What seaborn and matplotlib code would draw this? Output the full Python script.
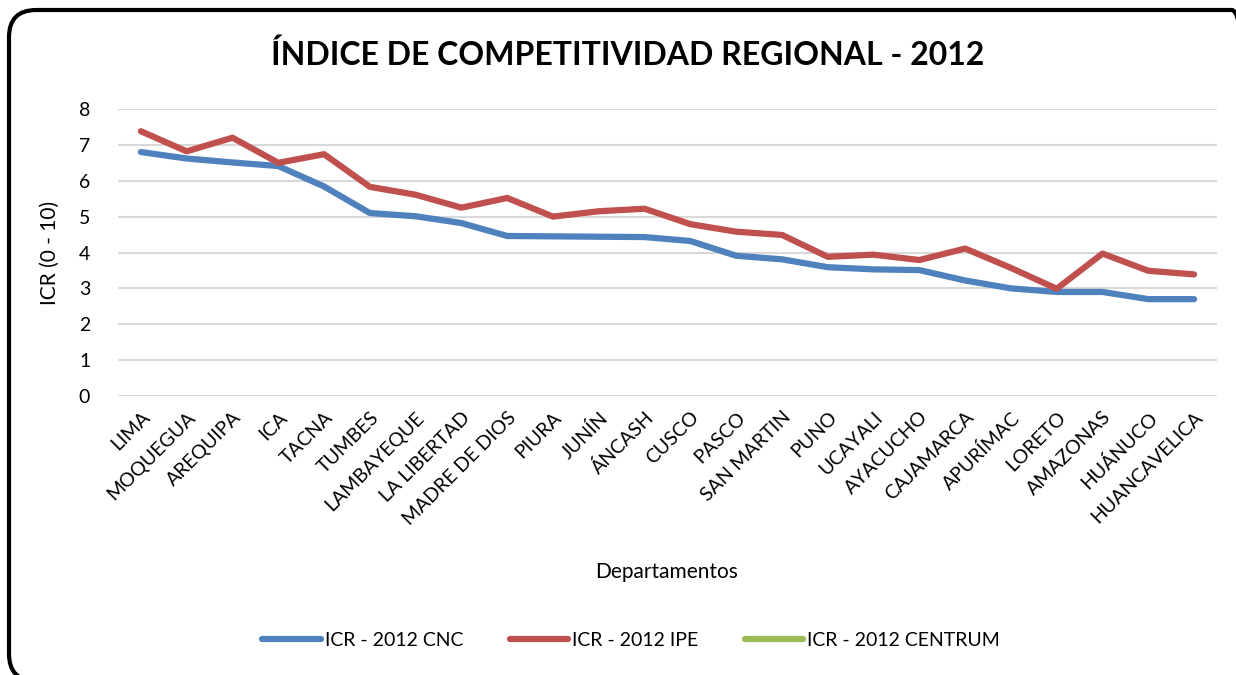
import matplotlib
matplotlib.use('Agg')
import matplotlib.pyplot as plt
from matplotlib.patches import FancyBboxPatch
from matplotlib.lines import Line2D
import seaborn as sns
import pandas as pd

departamentos = ['LIMA', 'MOQUEGUA', 'AREQUIPA', 'ICA', 'TACNA', 'TUMBES', 'LAMBAYEQUE',
                 'LA LIBERTAD', 'MADRE DE DIOS', 'PIURA', 'JUNÍN', 'ÁNCASH', 'CUSCO', 'PASCO',
                 'SAN MARTIN', 'PUNO', 'UCAYALI', 'AYACUCHO', 'CAJAMARCA', 'APURÍMAC', 'LORETO',
                 'AMAZONAS', 'HUÁNUCO', 'HUANCAVELICA']
icr_cnc = [6.80, 6.62, 6.51, 6.41, 5.84, 5.10, 5.01, 4.82, 4.46, 4.45, 4.44, 4.43, 4.32, 3.91,
           3.81, 3.59, 3.53, 3.51, 3.22, 3.00, 2.90, 2.90, 2.70, 2.70]
icr_ipe = [7.38, 6.82, 7.20, 6.50, 6.74, 5.83, 5.61, 5.25, 5.52, 5.00, 5.15, 5.22, 4.79, 4.58,
           4.49, 3.88, 3.94, 3.79, 4.11, 3.57, 2.99, 3.97, 3.49, 3.39]

colores = {'ICR - 2012 CNC': '#4F81BD', 'ICR - 2012 IPE': '#C0504D', 'ICR - 2012 CENTRUM': '#9BBB59'}

df = pd.DataFrame({
    'Departamento': departamentos * 2,
    'ICR': icr_cnc + icr_ipe,
    'Serie': ['ICR - 2012 CNC'] * len(departamentos) + ['ICR - 2012 IPE'] * len(departamentos),
})
df['pos'] = list(range(len(departamentos))) * 2

sns.set_style('white')
plt.rcParams['font.family'] = ['Lato', 'DejaVu Sans']
plt.rcParams['text.color'] = 'black'
plt.rcParams['axes.labelcolor'] = 'black'
plt.rcParams['xtick.color'] = 'black'
plt.rcParams['ytick.color'] = 'black'

fig = plt.figure(figsize=(12.36, 6.75), dpi=100)
ax = fig.add_axes([118 / 1236, 1 - 396 / 675, 1099 / 1236, 287 / 675])

sns.lineplot(data=df, x='pos', y='ICR', hue='Serie', palette=colores, linewidth=4.5,
             ax=ax, legend=False, solid_capstyle='round')

ax.set_xlim(-0.5, len(departamentos) - 0.5)
ax.set_ylim(0, 8)
ax.set_yticks(range(0, 9))
ax.set_xticks(range(len(departamentos)))
ax.set_xticklabels(departamentos, rotation=45, ha='right', rotation_mode='anchor', fontsize=14)
ax.tick_params(axis='y', labelsize=14, length=0, pad=20)
ax.tick_params(axis='x', length=0, pad=9)
ax.yaxis.grid(True, color='#D9D9D9', linewidth=1.5)
ax.set_axisbelow(True)
for s in ax.spines.values():
    s.set_visible(False)

ax.set_ylabel('ICR (0 - 10)', fontsize=15, labelpad=14)
ax.set_xlabel('')
fig.text(667 / 1236, 1 - 572 / 675, 'Departamentos', fontsize=15, ha='center', va='center')

fig.text(628 / 1236, 1 - 55 / 675, 'ÍNDICE DE COMPETITIVIDAD REGIONAL - 2012', fontsize=23,
         fontweight='bold', ha='center', va='center')

handles = [Line2D([0], [0], color=c, linewidth=4.5, solid_capstyle='round') for c in colores.values()]
fig.legend(handles, list(colores.keys()), loc='center', bbox_to_anchor=(631 / 1236, 1 - 640 / 675),
           ncol=3, frameon=False, fontsize=14, handlelength=3.0, handletextpad=0.2, columnspacing=2.4)

# marco redondeado (se sale por la derecha y por abajo, como en el original)
borde = FancyBboxPatch((9 / 1236, -6 / 675), 1250 / 1236, 671 / 675,
                       boxstyle='round,pad=0,rounding_size=0.022', transform=fig.transFigure,
                       fill=False, edgecolor='black', linewidth=3, mutation_aspect=1236 / 675)
fig.patches.append(borde)

fig.savefig('out.png', dpi=100)
